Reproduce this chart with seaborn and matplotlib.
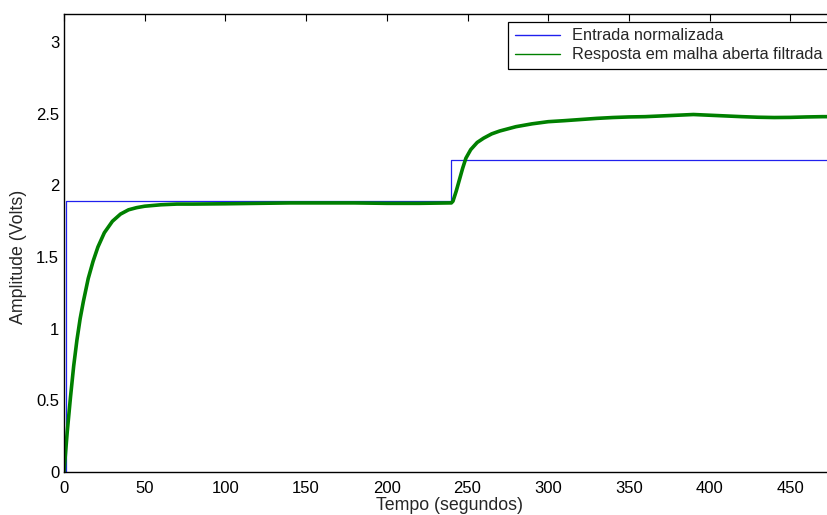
import numpy as np
import pandas as pd
import matplotlib
matplotlib.use("Agg")
import matplotlib.pyplot as plt
import seaborn as sns

# Input step (Entrada normalizada)
step_times = [0, 1, 240, 500]
step_levels = [0.0, 1.89, 2.18, 2.18]

# Filtered open-loop response
resp_t = [0, 2, 4, 6, 8, 10, 12, 15, 18, 21, 25, 30, 35, 40, 45, 50, 60, 70, 80,
          100, 120, 140, 160, 180, 200, 220, 239,
          240, 241, 243, 245, 247, 249, 252, 256, 260, 265, 270, 280, 290, 300,
          310, 320, 330, 340, 350, 360, 370, 380, 390, 400, 410, 420, 430, 440,
          450, 460, 470, 480]
resp_v = [0.0, 0.28, 0.52, 0.74, 0.92, 1.07, 1.19, 1.35, 1.47, 1.57, 1.67, 1.75, 1.80,
          1.83, 1.845, 1.855, 1.865, 1.87, 1.87,
          1.872, 1.875, 1.878, 1.878, 1.878, 1.875, 1.875, 1.878,
          1.878, 1.89, 1.96, 2.04, 2.12, 2.19, 2.25, 2.30, 2.33, 2.36, 2.38, 2.41, 2.43, 2.445,
          2.452, 2.46, 2.468, 2.474, 2.478, 2.48, 2.485, 2.49, 2.495, 2.49, 2.485, 2.48, 2.476, 2.474,
          2.475, 2.478, 2.48, 2.48]

yticks = [0, 0.5, 1, 1.5, 2, 2.5, 3]
xticks = list(range(0, 451, 50))

sns.set_theme(style="white")
plt.rcParams['font.family'] = ['Liberation Sans', 'DejaVu Sans']

W, H = 827, 515
fig = plt.figure(figsize=(W / 100, H / 100), dpi=100)
left, right, top, bottom = 64, 871, 13.5, 472
ax = fig.add_axes([left / W, (H - bottom) / H, (right - left) / W, (bottom - top) / H])

df_in = pd.DataFrame({"t": step_times, "v": step_levels})
df_out = pd.DataFrame({"t": resp_t, "v": resp_v})

sns.lineplot(data=df_in, x="t", y="v", ax=ax, color="#2020ee", linewidth=0.9,
             drawstyle="steps-post", estimator=None, sort=False,
             label="Entrada normalizada")
sns.lineplot(data=df_out, x="t", y="v", ax=ax, color="#008000", linewidth=2.6,
             estimator=None, sort=False, label="Resposta em malha aberta filtrada")

ax.set_xlim(0, 500)
ax.set_ylim(0, 3.2)
ax.set_xticks(xticks)
ax.set_xticklabels([str(x) for x in xticks])
ax.set_yticks(yticks)
ax.set_yticklabels([("%g" % y) for y in yticks])
ax.tick_params(direction="in", length=5, width=0.8, top=True, right=True,
               labelsize=12, colors="black")
ax.tick_params(axis="x", pad=6.5)
ax.tick_params(axis="y", pad=3.5)
for s in ax.spines.values():
    s.set_color("black")
    s.set_linewidth(1.0)
ax.set_xlabel("Tempo (segundos)", fontsize=12.8)
ax.set_ylabel("Amplitude (Volts)", fontsize=12.8)
ax.xaxis.set_label_coords((450 - left) / (right - left), (bottom - 497.5) / (bottom - top))
ax.yaxis.set_label_coords((27 - left) / (right - left), (bottom - 256.5) / (bottom - top))

leg = ax.legend(loc="upper left", bbox_to_anchor=(508 / W, 1 - 21.7 / H),
                bbox_transform=fig.transFigure, fontsize=11.8, frameon=True,
                fancybox=False, edgecolor="black", framealpha=1,
                handlelength=2.8, handletextpad=0.7, labelspacing=0.25,
                borderpad=0.4, borderaxespad=0)
leg.get_frame().set_linewidth(0.9)
for line in leg.get_lines():
    line.set_linewidth(1.0)

fig.savefig("out.png", dpi=100)
